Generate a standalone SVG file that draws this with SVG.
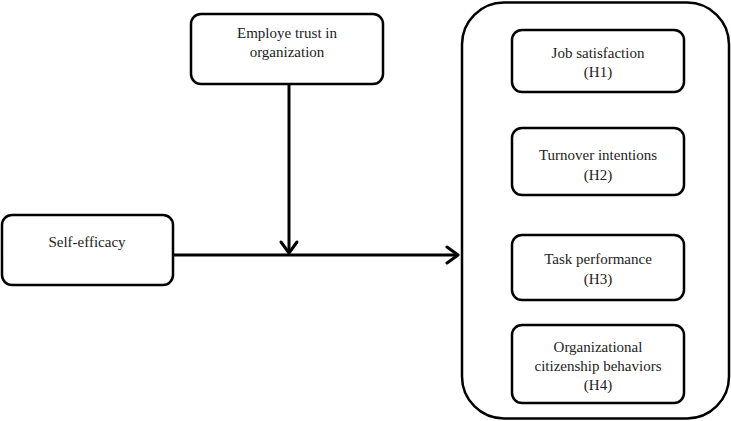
<svg xmlns="http://www.w3.org/2000/svg" width="731" height="421" viewBox="0 0 731 421">
<style>
.box{fill:#fff;stroke:#000;stroke-width:2.5}
.t{font-family:'Liberation Serif','Times New Roman',Tinos,'DejaVu Serif',serif;font-size:15px;fill:#222;text-anchor:middle}
.ln{fill:none;stroke:#000;stroke-width:3}
.ah{fill:none;stroke:#000;stroke-width:3;stroke-linecap:round;stroke-linejoin:round}
</style>
<rect width="731" height="421" fill="#fff"/>
<g id="outcomes">
<rect class="box" x="462" y="2.5" width="267" height="416" rx="42"/>
</g>
<g id="trust">
<rect class="box" x="191" y="14" width="192" height="70" rx="10"/>
<text class="t" x="287" y="38">Employe trust in</text>
<text class="t" x="287" y="57">organization</text>
</g>
<g id="selfefficacy">
<rect class="box" x="2" y="215" width="171" height="70" rx="10"/>
<text class="t" x="87" y="247">Self-efficacy</text>
</g>
<g id="h1">
<rect class="box" x="512" y="30" width="172" height="62" rx="10"/>
<text class="t" x="598" y="58">Job satisfaction</text>
<text class="t" x="598" y="77">(H1)</text>
</g>
<g id="h2">
<rect class="box" x="512" y="128" width="172" height="67" rx="10"/>
<text class="t" x="598" y="160">Turnover intentions</text>
<text class="t" x="598" y="180">(H2)</text>
</g>
<g id="h3">
<rect class="box" x="512" y="235" width="172" height="65" rx="10"/>
<text class="t" x="598" y="264">Task performance</text>
<text class="t" x="598" y="284">(H3)</text>
</g>
<g id="h4">
<rect class="box" x="512" y="325" width="172" height="78" rx="10"/>
<text class="t" x="598" y="352">Organizational</text>
<text class="t" x="598" y="371">citizenship behaviors</text>
<text class="t" x="598" y="390">(H4)</text>
</g>
<g id="connectors">
<line class="ln" x1="289" y1="84" x2="289" y2="252"/>
<polyline class="ah" points="281,242 289,253 297,242"/>
<line class="ln" x1="173" y1="255" x2="458" y2="255"/>
<polyline class="ah" points="447,247 458,255 447,263"/>
</g>
</svg>
